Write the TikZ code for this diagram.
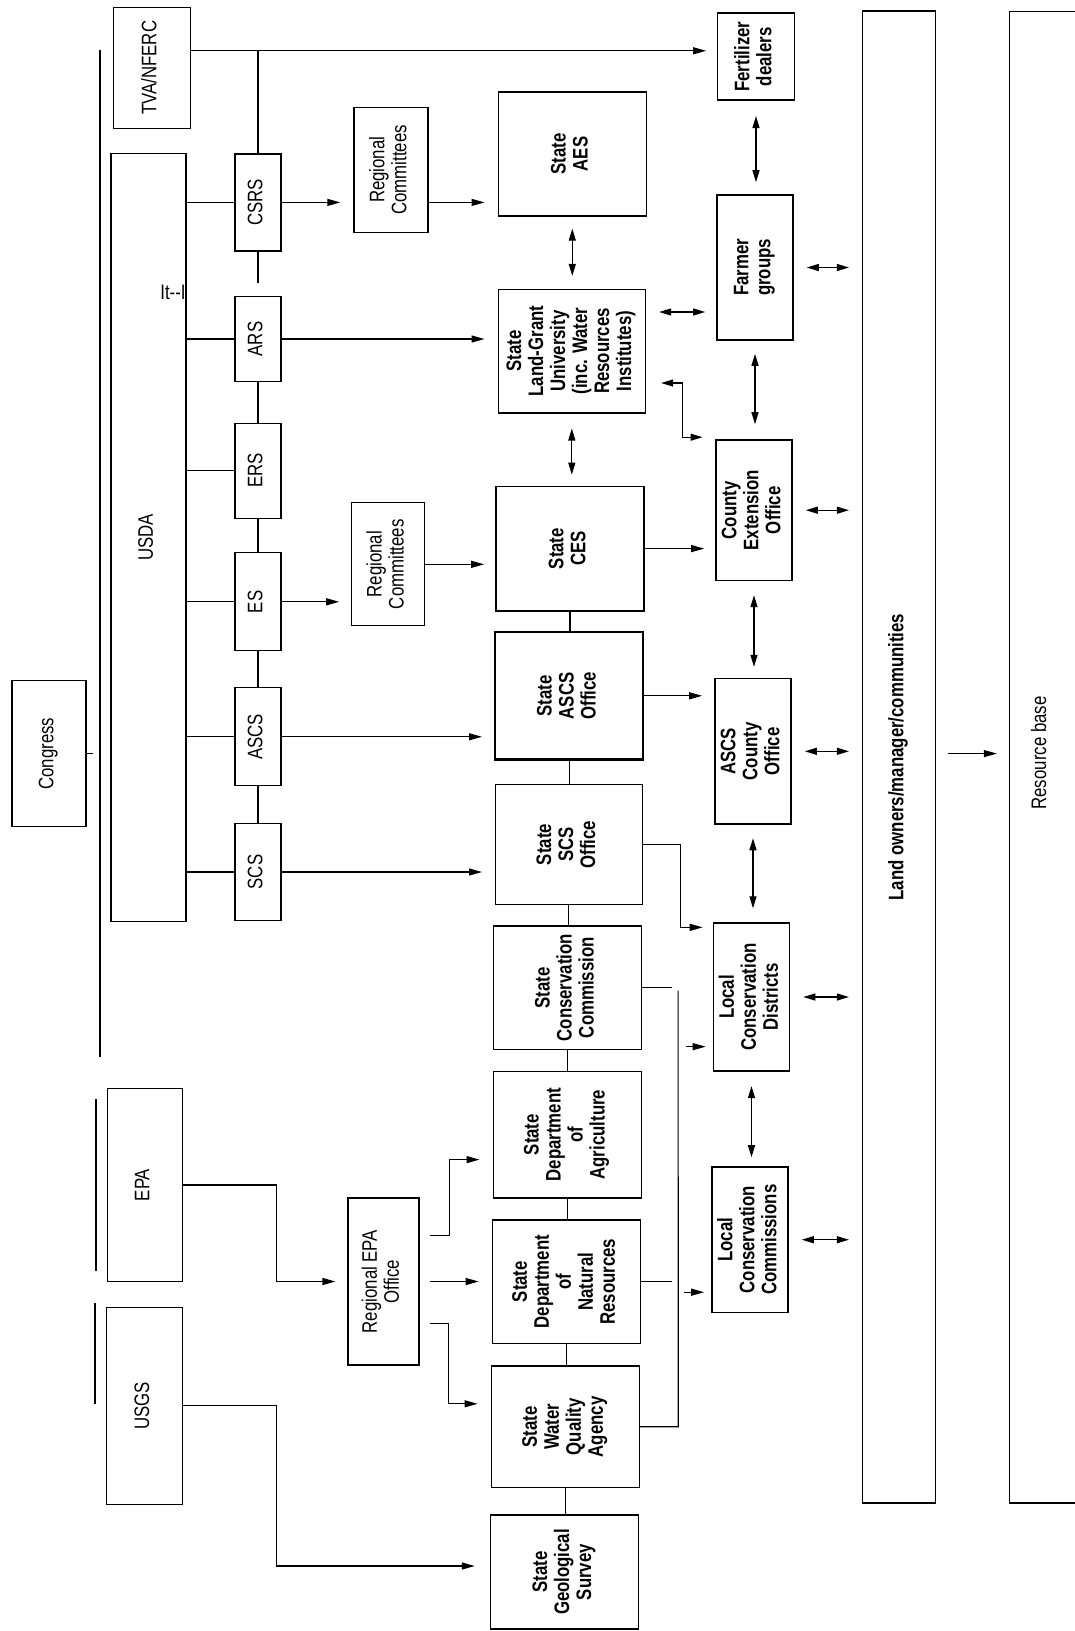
\documentclass[tikz,border=0pt]{standalone}
\usepackage{fontspec}
\setmainfont{Liberation Sans}[FakeStretch=0.8]
\usepackage{graphicx}
\usetikzlibrary{arrows.meta}

\newcommand{\agfont}{\fontsize{21}{22}\selectfont}
\newcommand{\stfont}{\bfseries\fontsize{21}{22}\selectfont}
\newcommand{\rt}[1]{\rotatebox{90}{\begin{tabular}{@{}c@{}}#1\end{tabular}}}

\tikzset{
  box/.style={draw, line width=1.2pt, inner sep=0pt, font=\agfont},
  stbox/.style={box, line width=1.6pt, font=\stfont},
  ln/.style={line width=1.2pt},
  arr/.style={ln, -{Triangle[length=13pt,width=7pt]}},
  dbl/.style={ln, {Triangle[length=12pt,width=7pt]}-{Triangle[length=12pt,width=7pt]}},
  toland/.style={dbl, shorten <=13pt, shorten >=13pt},
}

\begin{document}
\begin{tikzpicture}[x=1pt, y=-1pt]
    \useasboundingbox (0,0) rectangle (1075,1631);

    % 1. FEDERAL LEVEL
    \node[box, minimum width=76.5, minimum height=121] (tva) at (151.9,67.8) {\rt{TVA/NFERC}};
    \node[box, minimum width=75, minimum height=768] (usda) at (148.5,537.4) {\rt{USDA}};
    \node[box, minimum width=74, minimum height=146] (congress) at (49,753.6) {\rt{Congress}};
    \node[box, minimum width=75, minimum height=193] (epa) at (145,1185) {\rt{EPA}};
    \node[box, minimum width=76, minimum height=197] (usgs) at (144.6,1405.6) {\rt{USGS}};
    \node[font=\agfont, inner sep=0pt] (itmark) at (173,292.7) {It-{}-I};

    % LONG LINE (Left of the federal boxes)
    \draw[ln] (99.9,50) -- (99.9,1057);
    \draw[ln] ([xshift=-11pt,yshift=-11pt]epa.north west) -- ([xshift=-11pt,yshift=11pt]epa.south west);
    \draw[ln] ([xshift=-11pt,yshift=3.5pt]usgs.north west) -- ([xshift=-11pt,yshift=2pt]usgs.west);
    \draw[ln] (congress.east) -- ++(6,0);

    % 2. USDA AGENCIES
    \node[box, minimum width=46, minimum height=97] (csrs) at (258,202.4) {\rt{CSRS}};
    \node[box, minimum width=46, minimum height=85] (ars) at (258,339) {\rt{ARS}};
    \node[box, minimum width=46, minimum height=95] (ers) at (258,470.6) {\rt{ERS}};
    \node[box, minimum width=46, minimum height=98] (es) at (258,601.8) {\rt{ES}};
    \node[box, minimum width=46, minimum height=98] (ascs) at (258,736.8) {\rt{ASCS}};
    \node[box, minimum width=46, minimum height=97.5] (scs) at (258,872) {\rt{SCS}};

    \draw[ln] (usda.east |- csrs) -- (csrs.west);
    \draw[ln] (usda.east |- ars) -- (ars.west);
    \draw[ln] (usda.east |- ers) -- (ers.west);
    \draw[ln] (usda.east |- es) -- (es.west);
    \draw[ln] (usda.east |- ascs) -- (ascs.west);
    \draw[ln] (usda.east |- scs) -- (scs.west);

    \draw[ln] (csrs.south) -- ++(0,31);
    \draw[ln] (ars.south) -- (ers.north);
    \draw[ln] (ers.south) -- (es.north);
    \draw[ln] (es.south) -- (ascs.north);
    \draw[ln] (ascs.south) -- (scs.north);

    % REGIONAL OFFICES
    \node[box, minimum width=74, minimum height=125] (rc1) at (390.9,169.8) {\rt{Regional\\Committees}};
    \node[box, minimum width=73, minimum height=123] (rc2) at (388.3,564.3) {\rt{Regional\\Committees}};
    \node[box, minimum width=71, minimum height=167] (repa) at (383.5,1281.5) {\rt{Regional EPA\\Office}};

    % 3. STATE LEVEL
    \node[stbox, minimum width=148, minimum height=124] (aes) at (572.3,153.9) {\rt{State\\AES}};
    \node[stbox, minimum width=147, minimum height=123.4] (lgu) at (571.8,351) {\rt{State\\Land-Grant\\University\\(inc. Water\\Resources\\Institutes)}};
    \node[stbox, minimum width=148, minimum height=124.3] (ces) at (570,548.6) {\rt{State\\CES}};
    \node[stbox, line width=2.4pt, minimum width=148, minimum height=127.6] (sascs) at (569.2,695.8) {\rt{State\\ASCS\\Office}};
    \node[stbox, minimum width=147, minimum height=119.7] (sscs) at (568.8,844.5) {\rt{State\\SCS\\Office}};
    \node[stbox, minimum width=148, minimum height=123.3] (scc) at (567.3,987.7) {\rt{State\\Conservation\\Commission}};
    \node[stbox, minimum width=148, minimum height=126.5] (sda) at (567.3,1134.6) {\rt{State\\Department\\of\\Agriculture}};
    \node[stbox, minimum width=148, minimum height=123.4] (sdnr) at (566.4,1281.6) {\rt{State\\Department\\of\\Natural\\Resources}};
    \node[stbox, minimum width=148, minimum height=121.2] (swqa) at (565.4,1426.8) {\rt{State\\Water\\Quality\\Agency}};
    \node[stbox, minimum width=148, minimum height=114] (ssgs) at (564.6,1572) {\rt{State\\Geological\\Survey}};

    \draw[ln] (ces.south) -- (ces.south |- sascs.north);
    \draw[ln] (sascs.south) -- (sascs.south |- sscs.north);
    \draw[ln] (sscs.south) -- (sscs.south |- scc.north);
    \draw[ln] (scc.south) -- (scc.south |- sda.north);
    \draw[ln] (sda.south) -- (sda.south |- sdnr.north);
    \draw[ln] (sdnr.south) -- (sdnr.south |- swqa.north);
    \draw[ln] (swqa.south) -- (swqa.south |- ssgs.north);
    \draw[dbl, shorten <=12pt, shorten >=12.6pt] (aes.south) -- (aes.south |- lgu.north);
    \draw[dbl, shorten <=15pt, shorten >=11pt] (lgu.south) -- (lgu.south |- ces.north);

    % ARROWS (Federal and regional into state)
    \draw[arr, shorten >=13pt] (csrs.east) -- (csrs.east -| rc1.west);
    \draw[arr, shorten >=13pt] (rc1.east |- csrs.east) -- (csrs.east -| aes.west);
    \draw[arr, shorten >=13pt] (ars.east) -- (ars.east -| lgu.west);
    \draw[arr, shorten >=12pt] (es.east) -- (es.east -| rc2.west);
    \draw[arr, shorten >=11pt] (rc2.east) -- (rc2.east -| ces.west);
    \draw[arr, shorten >=12pt] (ascs.east) -- (ascs.east -| sascs.west);
    \draw[arr, shorten >=12.5pt] (scs.east) -- (scs.east -| sscs.west);
    \draw[arr, shorten >=12pt] (epa.east) -- ++(93,0) |- (repa.west);
    \draw[arr, shorten <=10pt, shorten >=13pt] ([yshift=46pt]repa.east) -- ++(30,0) |- ([yshift=-25pt]sda.west);
    \draw[arr, shorten <=10pt, shorten >=13pt] (repa.east) -- (repa.east -| sdnr.west);
    \draw[arr, shorten <=10pt, shorten >=13pt] ([yshift=-42pt]repa.east) -- ++(29,0) |- ([yshift=23pt]swqa.west);
    \draw[arr, shorten >=15pt] (usgs.east) -- ++(93,0) |- ([yshift=6pt]ssgs.west);

    % 4. LOCAL LEVEL
    \node[stbox, minimum width=77, minimum height=87] (fert) at (756,56.7) {\rt{Fertilizer\\dealers}};
    \node[stbox, minimum width=76, minimum height=145] (farmer) at (755,267.5) {\rt{Farmer\\groups}};
    \node[stbox, minimum width=76, minimum height=140.4] (ceo) at (754,510.2) {\rt{County\\Extension\\Office}};
    \node[stbox, minimum width=76, minimum height=145.3] (ascsco) at (753,751.3) {\rt{ASCS\\County\\Office}};
    \node[stbox, minimum width=76, minimum height=147.7] (lcd) at (751.5,997) {\rt{Local\\Conservation\\Districts}};
    \node[stbox, minimum width=76, minimum height=145.4] (lcc) at (750,1239.7) {\rt{Local\\Conservation\\Commissions}};

    % LINE (TVA to fertilizer dealers, with CSRS)
    \draw[arr, shorten >=10.6pt] ([yshift=17pt]tva.east) coordinate (tvaout) -- (tvaout -| fert.west);
    \draw[ln] (csrs.north) -- (csrs.north |- tvaout);

    % ARROWS (State into local)
    \draw[arr, shorten >=11pt] (ces.east) -- (ces.east -| ceo.west);
    \draw[arr, shorten >=12pt] (sascs.east) -- (sascs.east -| ascsco.west);
    \draw[arr, shorten >=10pt] (sscs.east) -- ++(37,0) |- ([yshift=-5pt]lcd.north west);
    \draw[dbl, shorten <=15pt, shorten >=12.7pt] ([yshift=-32pt]lgu.east) -- ++(36,0) |- ([yshift=2pt]ceo.north west);
    \draw[dbl, shorten <=13pt, shorten >=11pt] ([yshift=39pt]lgu.east) -- ([yshift=39pt]lgu.east -| farmer.west);

    \draw[ln] (scc.east) -- ++(30,0);
    \draw[ln] (sdnr.east) -- ++(31,0);
    \draw[ln] (swqa.east) -- ++(38,0) -- ([xshift=36pt,yshift=-3pt]scc.east);
    \draw[arr, shorten >=7pt] ([xshift=-27pt,yshift=25pt]lcd.south west) -- ([yshift=25pt]lcd.south west);
    \draw[arr, shorten >=7pt] ([xshift=-27pt,yshift=21pt]lcc.south west) -- ([yshift=21pt]lcc.south west);

    \draw[dbl, shorten <=15pt, shorten >=12pt] (fert.south) -- (fert.south |- farmer.north);
    \draw[dbl, shorten <=13pt, shorten >=15pt] (farmer.south) -- (farmer.south |- ceo.north);
    \draw[dbl, shorten <=14pt, shorten >=11pt] (ceo.south) -- (ceo.south |- ascsco.north);
    \draw[dbl, shorten <=13.5pt, shorten >=14pt] (ascsco.south) -- (ascsco.south |- lcd.north);
    \draw[dbl, shorten <=14.5pt, shorten >=9pt] (lcd.south) -- (lcd.south |- lcc.north);

    % 5. LAND OWNERS AND RESOURCE BASE
    \node[box, font=\stfont, minimum width=73, minimum height=1492] (land) at (899,757) {\rt{Land owners/manager/communities}};
    \node[font=\agfont, inner sep=0pt] (resbase) at (1041.7,753) {\rt{Resource base}};
    \coordinate (resl) at (1009.4,753.6);
    \draw[ln] (1077,11.7) -- (1009.4,11.7) -- (1009.4,1503) -- (1077,1503);

    \draw[toland] (farmer.east) -- (farmer.east -| land.west);
    \draw[toland] (ceo.east) -- (ceo.east -| land.west);
    \draw[toland] (ascsco.east) -- (ascsco.east -| land.west);
    \draw[toland] (lcd.east) -- (lcd.east -| land.west);
    \draw[toland] (lcc.east) -- (lcc.east -| land.west);
    \draw[arr, line width=1pt, shorten <=11.4pt, shorten >=12.5pt] (land.east |- resl) -- (resl);

\end{tikzpicture}
\end{document}
